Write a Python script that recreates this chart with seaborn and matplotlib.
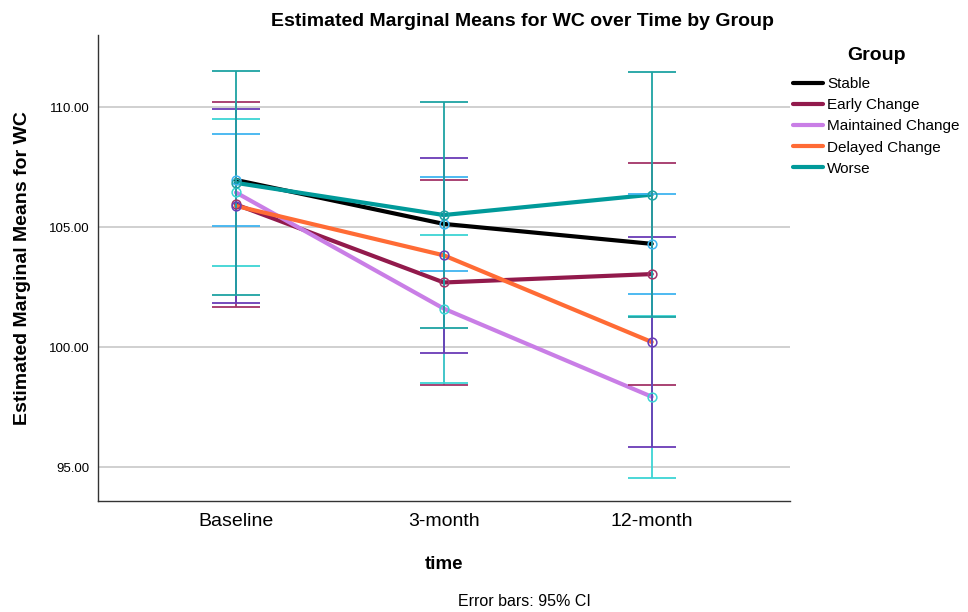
import matplotlib
matplotlib.use("Agg")
import matplotlib.pyplot as plt
import seaborn as sns
import pandas as pd
import numpy as np

# Estimated marginal means of WC and 95% CI half-widths per group and time point
times = ["Baseline", "3-month", "12-month"]
groups = ["Stable", "Early Change", "Maintained Change", "Delayed Change", "Worse"]

stable_mean = [106.96, 105.13, 104.30]
early_mean = [105.94, 102.69, 103.04]
maintained_mean = [106.44, 101.60, 97.93]
delayed_mean = [105.88, 103.82, 100.21]
worse_mean = [106.84, 105.50, 106.35]

stable_ci = [1.92, 1.95, 2.09]
early_ci = [4.26, 4.29, 4.63]
maintained_ci = [3.05, 3.08, 3.38]
delayed_ci = [4.03, 4.07, 4.39]
worse_ci = [4.66, 4.70, 5.09]

means = [stable_mean, early_mean, maintained_mean, delayed_mean, worse_mean]
cis = [stable_ci, early_ci, maintained_ci, delayed_ci, worse_ci]

line_colors = ["#000000", "#921a4c", "#c97ee6", "#ff6b35", "#009a9a"]
bar_colors = ["#3fb4f0", "#a33468", "#3dd4d4", "#6a3cb6", "#1ea3a3"]

rows = []
for g, m, c in zip(groups, means, cis):
    for t, mv, cv in zip(times, m, c):
        rows.append({"time": t, "group": g, "mean": mv, "ci": cv})
df = pd.DataFrame(rows)

sns.set_theme(style="white")
plt.rcParams["font.family"] = ["Liberation Sans", "DejaVu Sans"]
plt.rcParams["text.color"] = "black"
plt.rcParams["axes.labelcolor"] = "black"
plt.rcParams["xtick.color"] = "black"
plt.rcParams["ytick.color"] = "black"

fig = plt.figure(figsize=(9.68, 6.12), dpi=100)
ax = fig.add_axes([0.1009, 0.1819, 0.8161 - 0.1009, 0.9428 - 0.1819])

ax.yaxis.grid(True, color="#c8c8c8", linewidth=1.2, zorder=0)
ax.set_axisbelow(True)

sns.lineplot(data=df, x="time", y="mean", hue="group", hue_order=groups,
             palette=dict(zip(groups, line_colors)), linewidth=3.0,
             sort=False, ax=ax, legend=True, zorder=3)

pos = {t: i for i, t in enumerate(times)}
for k, g in enumerate(groups):
    sub = df[df["group"] == g]
    x = sub["time"].map(pos).to_numpy()
    ax.errorbar(x, sub["mean"], yerr=sub["ci"], fmt="none",
                ecolor=bar_colors[k], elinewidth=1.3, capsize=17,
                capthick=1.3, zorder=4 + k * 0.1)
for k, g in enumerate(groups):
    sub = df[df["group"] == g]
    x = sub["time"].map(pos).to_numpy()
    ax.plot(x, sub["mean"], linestyle="none", marker="o", markersize=6.3,
            markerfacecolor="none", markeredgecolor=bar_colors[k],
            markeredgewidth=1.1, zorder=6)

ax.set_xlim(-0.665, 2.665)
ax.set_ylim(93.6, 113.0)
ax.set_yticks([95, 100, 105, 110])
ax.set_yticklabels([f"{v:.2f}" for v in [95, 100, 105, 110]], fontsize=9.5)
ax.set_xticks(range(len(times)))
ax.set_xticklabels(times, fontsize=14)
ax.tick_params(axis="both", length=0, pad=6)
ax.tick_params(axis="x", pad=9)

for s in ["top", "right"]:
    ax.spines[s].set_visible(False)
for s in ["left", "bottom"]:
    ax.spines[s].set_color("#333333")
    ax.spines[s].set_linewidth(1.0)

ax.set_xlabel("time", fontsize=13.5, fontweight="bold")
ax.xaxis.set_label_coords(0.5, -0.119)
ax.set_ylabel("Estimated Marginal Means for WC", fontsize=14, fontweight="bold")
ax.yaxis.set_label_coords(-0.096, 0.5)

fig.text(0.540, 1 - 21 / 612, "Estimated Marginal Means for WC over Time by Group",
         ha="center", va="center", fontsize=14, fontweight="bold")
fig.text(524 / 968, 1 - 601.5 / 612, "Error bars: 95% CI",
         ha="center", va="center", fontsize=11.5)

# Legend entries, with the "Group" heading placed on its own above them
handles, labels = ax.get_legend_handles_labels()
for h in handles:
    h.set_linewidth(3.0)
leg = ax.legend(handles, labels, loc="upper left",
                bbox_to_anchor=(793 / 968, 1 - 77 / 612),
                bbox_transform=fig.transFigure, frameon=False,
                fontsize=11, handlelength=1.95, handletextpad=0.3,
                labelspacing=0.47, borderpad=0, borderaxespad=0)
fig.text(876 / 968, 1 - 55 / 612, "Group", ha="center", va="center",
         fontsize=14, fontweight="bold")

fig.savefig("out.png", dpi=100)
